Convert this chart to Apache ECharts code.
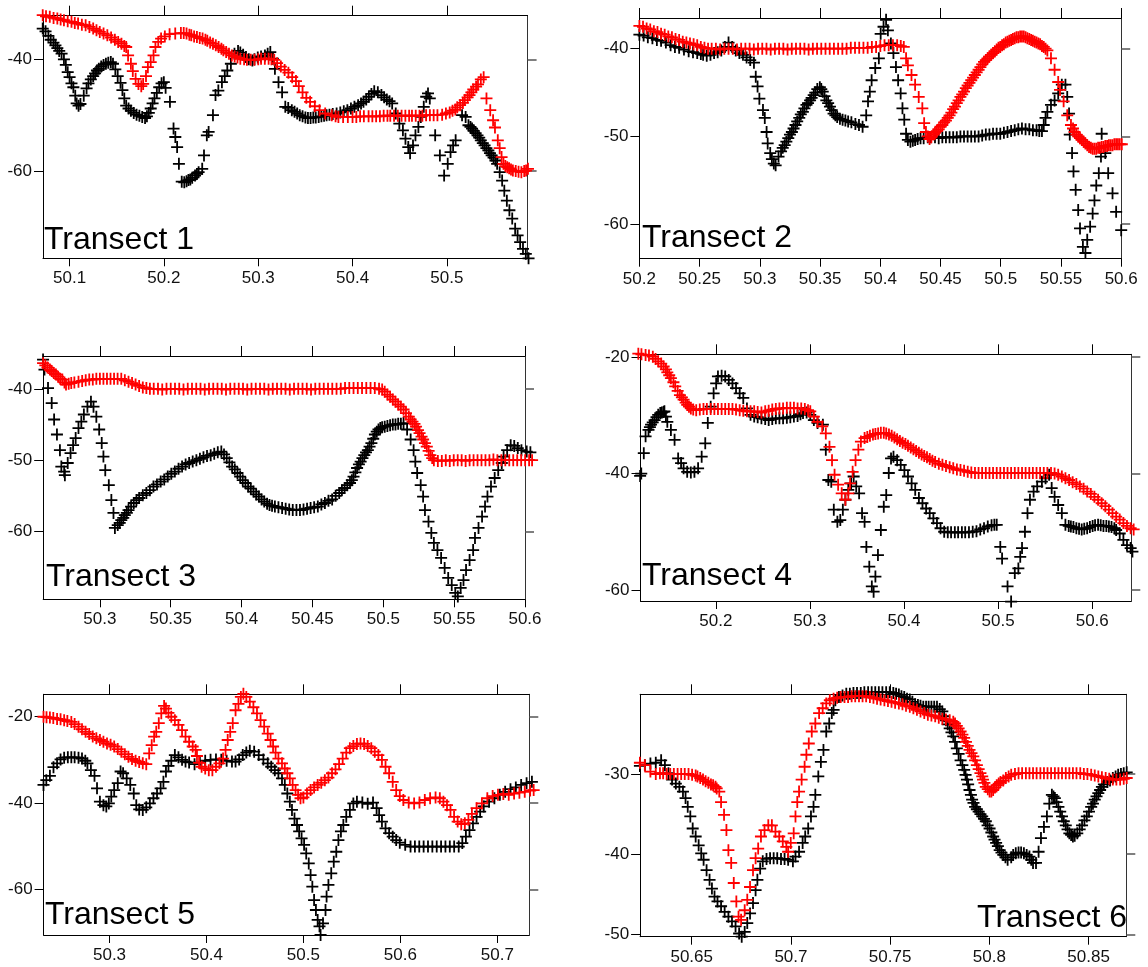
<!DOCTYPE html>
<html>
<head>
<meta charset="utf-8">
<title>Transects</title>
<script src="https://cdn.jsdelivr.net/npm/echarts@6.0.0/dist/echarts.min.js"></script>
<style>
  html, body { margin: 0; padding: 0; background: #ffffff; }
  #chart { width: 1148px; height: 967px; }
</style>
</head>
<body>
<div id="chart"></div>
<script>
// ---- Transect 1 ----
const P1_RED = [[50.0715,-32.1],[50.0750,-32.3],[50.0790,-32.4],[50.0830,-32.6],[50.0870,-32.7],[50.0905,-32.9],[50.0940,-33.0],[50.0980,-33.2],[50.1020,-33.3],[50.1055,-33.5],[50.1090,-33.6],[50.1130,-33.8],[50.1170,-33.9],[50.1210,-34.2],[50.1250,-34.5],[50.1285,-34.8],[50.1320,-35.1],[50.1360,-35.4],[50.1400,-35.7],[50.1440,-36.1],[50.1480,-36.5],[50.1515,-36.9],[50.1550,-37.2],[50.1580,-37.6],[50.1600,-37.8],[50.1620,-39.3],[50.1650,-40.8],[50.1670,-42.1],[50.1700,-43.5],[50.1730,-44.4],[50.1760,-44.8],[50.1780,-44.4],[50.1810,-43.0],[50.1830,-41.4],[50.1860,-40.5],[50.1890,-39.3],[50.1910,-37.8],[50.1940,-36.9],[50.1970,-36.3],[50.2010,-35.9],[50.2060,-35.5],[50.2120,-35.4],[50.2180,-35.3],[50.2210,-35.3],[50.2240,-35.4],[50.2270,-35.6],[50.2290,-35.7],[50.2320,-35.9],[50.2350,-36.0],[50.2380,-36.2],[50.2410,-36.3],[50.2440,-36.5],[50.2460,-36.7],[50.2490,-37.0],[50.2520,-37.2],[50.2550,-37.5],[50.2580,-37.8],[50.2610,-38.1],[50.2630,-38.4],[50.2660,-38.7],[50.2690,-39.0],[50.2720,-39.3],[50.2750,-39.5],[50.2780,-39.7],[50.2810,-39.9],[50.2850,-40.0],[50.2880,-40.1],[50.2920,-40.1],[50.2960,-40.1],[50.3000,-40.0],[50.3030,-39.9],[50.3070,-39.9],[50.3110,-39.9],[50.3140,-40.0],[50.3170,-40.1],[50.3200,-40.7],[50.3240,-41.3],[50.3280,-41.9],[50.3320,-42.4],[50.3360,-43.2],[50.3400,-43.9],[50.3430,-44.8],[50.3470,-45.9],[50.3510,-46.9],[50.3550,-47.6],[50.3600,-48.4],[50.3650,-49.1],[50.3710,-49.7],[50.3780,-50.0],[50.3820,-50.2],[50.3850,-50.3],[50.3900,-50.3],[50.3950,-50.3],[50.4000,-50.3],[50.4040,-50.3],[50.4080,-50.2],[50.4120,-50.2],[50.4170,-50.2],[50.4210,-50.2],[50.4250,-50.2],[50.4290,-50.2],[50.4330,-50.1],[50.4370,-50.1],[50.4400,-50.1],[50.4440,-50.1],[50.4480,-50.1],[50.4520,-50.1],[50.4560,-50.1],[50.4600,-50.1],[50.4630,-50.1],[50.4670,-50.1],[50.4710,-50.1],[50.4740,-50.1],[50.4780,-50.0],[50.4820,-50.0],[50.4860,-50.0],[50.4900,-50.0],[50.4950,-49.9],[50.4990,-49.7],[50.5030,-49.5],[50.5060,-49.2],[50.5090,-49.0],[50.5110,-48.6],[50.5140,-48.2],[50.5170,-47.8],[50.5190,-47.3],[50.5220,-46.8],[50.5240,-46.4],[50.5260,-45.9],[50.5280,-45.4],[50.5310,-44.9],[50.5330,-44.5],[50.5360,-43.6],[50.5390,-43.2],[50.5420,-47.0],[50.5460,-49.1],[50.5490,-50.9],[50.5510,-52.2],[50.5540,-54.5],[50.5560,-55.9],[50.5580,-57.5],[50.5600,-58.7],[50.5620,-59.1],[50.5640,-59.3],[50.5660,-59.5],[50.5680,-59.7],[50.5700,-59.9],[50.5730,-60.0],[50.5760,-60.1],[50.5790,-60.2],[50.5820,-60.0],[50.5840,-59.9],[50.5860,-59.6]];
const P1_BLACK = [[50.0715,-34.5],[50.0745,-35.0],[50.0775,-35.8],[50.0800,-36.5],[50.0829,-37.0],[50.0850,-37.5],[50.0870,-38.0],[50.0890,-38.5],[50.0915,-39.0],[50.0940,-40.0],[50.0960,-41.0],[50.0980,-42.3],[50.1000,-43.2],[50.1020,-44.3],[50.1040,-45.0],[50.1060,-46.5],[50.1075,-47.9],[50.1095,-48.3],[50.1115,-48.0],[50.1150,-46.5],[50.1180,-45.2],[50.1200,-44.3],[50.1225,-43.6],[50.1250,-43.0],[50.1270,-42.5],[50.1290,-42.0],[50.1310,-41.7],[50.1335,-41.3],[50.1360,-41.0],[50.1385,-40.8],[50.1410,-40.6],[50.1437,-40.5],[50.1460,-40.8],[50.1485,-41.8],[50.1510,-43.0],[50.1540,-44.2],[50.1560,-45.5],[50.1580,-47.0],[50.1600,-48.3],[50.1625,-48.8],[50.1650,-49.2],[50.1680,-49.6],[50.1710,-49.9],[50.1740,-50.1],[50.1770,-50.3],[50.1800,-50.5],[50.1820,-50.2],[50.1840,-49.6],[50.1860,-48.8],[50.1880,-47.9],[50.1900,-47.0],[50.1925,-46.0],[50.1950,-45.0],[50.1975,-44.3],[50.1999,-44.1],[50.2018,-45.1],[50.2064,-47.6],[50.2102,-52.4],[50.2121,-53.9],[50.2140,-55.7],[50.2159,-58.7],[50.2189,-61.9],[50.2216,-62.0],[50.2240,-61.8],[50.2260,-61.6],[50.2280,-61.5],[50.2300,-61.2],[50.2330,-60.8],[50.2350,-60.5],[50.2368,-60.2],[50.2406,-59.6],[50.2425,-57.2],[50.2455,-53.6],[50.2474,-53.0],[50.2520,-50.0],[50.2547,-46.4],[50.2577,-45.6],[50.2615,-44.1],[50.2645,-43.0],[50.2672,-42.0],[50.2710,-40.8],[50.2748,-39.0],[50.2786,-38.5],[50.2810,-38.8],[50.2840,-39.2],[50.2870,-39.6],[50.2900,-40.0],[50.2938,-40.2],[50.2960,-40.0],[50.2995,-39.7],[50.3030,-39.5],[50.3071,-39.3],[50.3100,-39.0],[50.3128,-38.7],[50.3155,-39.9],[50.3177,-41.7],[50.3215,-44.1],[50.3253,-45.9],[50.3287,-48.5],[50.3318,-48.7],[50.3356,-49.1],[50.3385,-49.4],[50.3413,-49.7],[50.3440,-50.0],[50.3470,-50.2],[50.3500,-50.4],[50.3527,-50.5],[50.3555,-50.5],[50.3584,-50.4],[50.3610,-50.4],[50.3641,-50.3],[50.3670,-50.2],[50.3698,-50.1],[50.3725,-50.0],[50.3755,-49.9],[50.3790,-49.8],[50.3831,-49.7],[50.3870,-49.5],[50.3907,-49.3],[50.3945,-49.1],[50.3983,-48.8],[50.4020,-48.5],[50.4059,-48.2],[50.4090,-47.9],[50.4116,-47.6],[50.4145,-47.2],[50.4173,-46.7],[50.4200,-46.2],[50.4230,-45.7],[50.4268,-45.9],[50.4306,-46.4],[50.4335,-46.8],[50.4363,-47.2],[50.4392,-47.5],[50.4420,-47.9],[50.4458,-49.7],[50.4496,-51.5],[50.4534,-52.7],[50.4561,-54.2],[50.4591,-55.7],[50.4610,-56.8],[50.4641,-55.4],[50.4667,-53.6],[50.4698,-52.1],[50.4724,-50.3],[50.4755,-48.5],[50.4781,-46.7],[50.4800,-46.1],[50.4819,-47.0],[50.4876,-53.6],[50.4926,-57.2],[50.4971,-60.8],[50.5009,-58.7],[50.5039,-56.6],[50.5066,-55.4],[50.5093,-54.5],[50.5161,-50.0],[50.5199,-50.3],[50.5229,-51.8],[50.5250,-52.1],[50.5267,-52.4],[50.5285,-52.8],[50.5305,-53.2],[50.5325,-53.6],[50.5343,-54.0],[50.5360,-54.5],[50.5381,-55.0],[50.5400,-55.4],[50.5419,-55.9],[50.5440,-56.3],[50.5457,-56.8],[50.5475,-57.2],[50.5495,-57.6],[50.5515,-58.1],[50.5533,-58.7],[50.5560,-60.2],[50.5586,-61.7],[50.5609,-63.5],[50.5636,-65.3],[50.5663,-67.0],[50.5693,-68.5],[50.5724,-70.3],[50.5750,-71.5],[50.5777,-72.7],[50.5807,-73.9],[50.5837,-74.8],[50.5866,-75.6]];

// ---- Transect 2 ----
const P2_RED = [[50.2000,-37.4],[50.2030,-37.5],[50.2060,-37.7],[50.2090,-37.8],[50.2120,-38.0],[50.2150,-38.1],[50.2180,-38.3],[50.2210,-38.4],[50.2240,-38.6],[50.2270,-38.7],[50.2300,-38.9],[50.2330,-39.0],[50.2360,-39.2],[50.2390,-39.3],[50.2420,-39.4],[50.2450,-39.5],[50.2480,-39.6],[50.2510,-39.8],[50.2540,-39.9],[50.2570,-40.0],[50.2600,-40.0],[50.2635,-40.0],[50.2670,-40.1],[50.2705,-40.0],[50.2740,-40.0],[50.2775,-40.0],[50.2810,-40.1],[50.2845,-40.0],[50.2880,-40.0],[50.2915,-40.0],[50.2950,-40.1],[50.2985,-40.0],[50.3020,-40.0],[50.3055,-40.0],[50.3090,-40.1],[50.3125,-40.0],[50.3160,-40.0],[50.3195,-40.0],[50.3230,-40.1],[50.3265,-40.0],[50.3300,-40.0],[50.3335,-40.0],[50.3370,-40.0],[50.3405,-40.1],[50.3440,-40.0],[50.3475,-40.0],[50.3510,-40.0],[50.3545,-40.0],[50.3580,-40.0],[50.3615,-40.0],[50.3650,-40.0],[50.3685,-40.0],[50.3720,-40.0],[50.3755,-39.9],[50.3790,-39.9],[50.3825,-39.9],[50.3860,-39.9],[50.3895,-39.9],[50.3930,-39.8],[50.3965,-39.8],[50.4000,-39.7],[50.4035,-39.6],[50.4070,-39.6],[50.4105,-39.6],[50.4140,-39.6],[50.4170,-39.7],[50.4195,-39.8],[50.4214,-41.1],[50.4229,-41.9],[50.4259,-43.0],[50.4289,-44.1],[50.4319,-45.5],[50.4349,-46.8],[50.4364,-48.5],[50.4379,-49.5],[50.4394,-50.0],[50.4409,-50.3],[50.4424,-50.1],[50.4440,-49.8],[50.4454,-49.6],[50.4470,-49.4],[50.4485,-49.2],[50.4500,-48.9],[50.4515,-48.7],[50.4530,-48.4],[50.4545,-48.2],[50.4560,-47.9],[50.4575,-47.6],[50.4590,-47.3],[50.4605,-46.9],[50.4620,-46.6],[50.4635,-46.2],[50.4650,-45.9],[50.4665,-45.5],[50.4680,-45.2],[50.4695,-44.9],[50.4710,-44.5],[50.4725,-44.2],[50.4740,-43.9],[50.4755,-43.6],[50.4770,-43.3],[50.4785,-43.0],[50.4800,-42.7],[50.4816,-42.4],[50.4831,-42.1],[50.4846,-41.8],[50.4861,-41.5],[50.4876,-41.3],[50.4891,-41.1],[50.4906,-40.9],[50.4921,-40.7],[50.4936,-40.5],[50.4951,-40.3],[50.4966,-40.1],[50.4981,-39.9],[50.4996,-39.8],[50.5011,-39.6],[50.5026,-39.5],[50.5041,-39.3],[50.5056,-39.2],[50.5071,-39.1],[50.5086,-39.0],[50.5101,-38.9],[50.5116,-38.8],[50.5131,-38.7],[50.5146,-38.7],[50.5161,-38.6],[50.5176,-38.6],[50.5191,-38.6],[50.5206,-38.7],[50.5221,-38.8],[50.5237,-38.9],[50.5252,-39.0],[50.5267,-39.1],[50.5282,-39.2],[50.5297,-39.3],[50.5312,-39.4],[50.5327,-39.5],[50.5342,-39.7],[50.5357,-39.8],[50.5372,-40.0],[50.5387,-40.2],[50.5417,-41.1],[50.5447,-42.4],[50.5477,-43.8],[50.5492,-44.7],[50.5522,-46.0],[50.5552,-47.6],[50.5583,-48.7],[50.5600,-49.1],[50.5613,-49.5],[50.5628,-49.8],[50.5643,-50.0],[50.5658,-50.2],[50.5673,-50.4],[50.5688,-50.6],[50.5703,-50.8],[50.5718,-51.0],[50.5733,-51.2],[50.5748,-51.3],[50.5763,-51.4],[50.5778,-51.4],[50.5793,-51.4],[50.5808,-51.3],[50.5823,-51.3],[50.5838,-51.2],[50.5853,-51.2],[50.5868,-51.1],[50.5883,-51.1],[50.5898,-51.0],[50.5913,-51.0],[50.5928,-51.0],[50.5943,-50.9],[50.5958,-50.9],[50.5973,-50.9],[50.5988,-50.9],[50.6005,-50.9]];
const P2_BLACK = [[50.2000,-38.4],[50.2035,-38.5],[50.2070,-38.7],[50.2108,-38.8],[50.2145,-39.0],[50.2180,-39.1],[50.2220,-39.3],[50.2259,-39.6],[50.2295,-39.8],[50.2330,-39.9],[50.2370,-40.1],[50.2409,-40.3],[50.2445,-40.4],[50.2480,-40.5],[50.2510,-40.6],[50.2529,-40.7],[50.2559,-40.8],[50.2590,-40.7],[50.2620,-40.5],[50.2650,-40.4],[50.2680,-40.2],[50.2710,-39.8],[50.2740,-39.3],[50.2770,-39.8],[50.2800,-40.2],[50.2830,-40.5],[50.2860,-40.7],[50.2890,-41.0],[50.2920,-41.3],[50.2951,-41.6],[50.2966,-43.2],[50.2981,-44.3],[50.2996,-45.7],[50.3026,-47.0],[50.3041,-47.9],[50.3056,-49.5],[50.3065,-50.8],[50.3086,-51.9],[50.3100,-52.6],[50.3116,-53.1],[50.3131,-53.3],[50.3155,-52.3],[50.3176,-51.7],[50.3190,-51.3],[50.3206,-51.0],[50.3220,-50.6],[50.3236,-50.2],[50.3250,-49.8],[50.3266,-49.5],[50.3280,-49.1],[50.3296,-48.7],[50.3310,-48.3],[50.3327,-47.9],[50.3340,-47.5],[50.3357,-47.2],[50.3370,-46.8],[50.3387,-46.4],[50.3400,-46.2],[50.3417,-45.9],[50.3430,-45.6],[50.3447,-45.3],[50.3460,-45.0],[50.3477,-44.6],[50.3498,-44.4],[50.3510,-44.6],[50.3522,-44.9],[50.3537,-45.4],[50.3552,-45.9],[50.3567,-46.2],[50.3582,-46.6],[50.3597,-47.0],[50.3612,-47.4],[50.3627,-47.6],[50.3642,-47.8],[50.3665,-48.0],[50.3687,-48.1],[50.3710,-48.2],[50.3733,-48.3],[50.3760,-48.4],[50.3793,-48.6],[50.3823,-48.7],[50.3853,-48.9],[50.3883,-47.6],[50.3898,-46.0],[50.3913,-44.9],[50.3928,-43.6],[50.3958,-42.2],[50.3988,-41.1],[50.4003,-38.3],[50.4027,-37.5],[50.4048,-36.7],[50.4063,-37.9],[50.4088,-39.4],[50.4109,-40.5],[50.4130,-42.1],[50.4148,-43.6],[50.4169,-45.1],[50.4184,-46.8],[50.4199,-48.1],[50.4214,-49.7],[50.4229,-50.4],[50.4250,-50.6],[50.4270,-50.5],[50.4289,-50.4],[50.4310,-50.3],[50.4334,-50.2],[50.4360,-50.2],[50.4394,-50.1],[50.4420,-50.1],[50.4454,-50.1],[50.4485,-50.2],[50.4515,-50.1],[50.4545,-50.1],[50.4575,-50.1],[50.4605,-50.1],[50.4635,-50.1],[50.4665,-50.0],[50.4695,-50.0],[50.4725,-50.0],[50.4755,-50.0],[50.4785,-50.0],[50.4816,-50.0],[50.4846,-49.9],[50.4876,-49.8],[50.4906,-49.8],[50.4936,-49.7],[50.4966,-49.7],[50.4996,-49.7],[50.5026,-49.6],[50.5056,-49.5],[50.5086,-49.4],[50.5116,-49.3],[50.5146,-49.2],[50.5176,-49.1],[50.5206,-49.2],[50.5237,-49.2],[50.5267,-49.3],[50.5297,-49.3],[50.5320,-49.4],[50.5342,-49.4],[50.5357,-48.7],[50.5372,-47.9],[50.5387,-47.2],[50.5417,-46.4],[50.5447,-45.9],[50.5477,-45.1],[50.5507,-44.1],[50.5537,-44.1],[50.5552,-45.5],[50.5567,-47.4],[50.5573,-49.8],[50.5592,-51.9],[50.5604,-54.0],[50.5622,-56.1],[50.5643,-58.4],[50.5658,-60.5],[50.5682,-62.6],[50.5703,-63.3],[50.5718,-61.8],[50.5742,-60.3],[50.5763,-58.8],[50.5778,-57.3],[50.5793,-55.6],[50.5814,-54.2],[50.5832,-52.3],[50.5838,-49.7],[50.5868,-51.9],[50.5892,-54.2],[50.5928,-56.5],[50.5958,-58.6],[50.6000,-60.7]];

// ---- Transect 3 ----
const P3_RED = [[50.2599,-36.4],[50.2615,-36.7],[50.2630,-37.0],[50.2647,-37.3],[50.2660,-37.5],[50.2675,-37.8],[50.2690,-38.0],[50.2705,-38.3],[50.2720,-38.6],[50.2735,-38.7],[50.2750,-39.1],[50.2761,-39.4],[50.2780,-39.3],[50.2798,-39.2],[50.2820,-39.1],[50.2849,-39.0],[50.2875,-38.9],[50.2900,-38.8],[50.2925,-38.7],[50.2950,-38.7],[50.2975,-38.6],[50.3000,-38.6],[50.3025,-38.6],[50.3050,-38.6],[50.3075,-38.6],[50.3100,-38.6],[50.3125,-38.6],[50.3151,-38.6],[50.3176,-38.8],[50.3202,-39.0],[50.3227,-39.2],[50.3252,-39.4],[50.3277,-39.6],[50.3303,-39.8],[50.3328,-39.9],[50.3353,-40.0],[50.3380,-40.0],[50.3410,-40.0],[50.3440,-40.1],[50.3470,-40.0],[50.3500,-40.0],[50.3530,-40.0],[50.3560,-40.0],[50.3590,-40.1],[50.3620,-40.0],[50.3650,-40.0],[50.3680,-40.0],[50.3710,-40.0],[50.3740,-40.1],[50.3770,-40.0],[50.3800,-40.0],[50.3830,-40.0],[50.3860,-40.0],[50.3890,-40.1],[50.3920,-40.0],[50.3950,-40.0],[50.3980,-40.0],[50.4010,-40.0],[50.4040,-40.1],[50.4070,-40.0],[50.4100,-40.0],[50.4130,-40.0],[50.4160,-40.0],[50.4190,-40.1],[50.4220,-40.0],[50.4250,-40.0],[50.4280,-40.0],[50.4310,-40.0],[50.4340,-40.1],[50.4370,-40.0],[50.4400,-40.0],[50.4430,-40.0],[50.4460,-40.0],[50.4490,-40.1],[50.4520,-40.0],[50.4550,-40.0],[50.4580,-40.0],[50.4610,-40.0],[50.4640,-40.0],[50.4670,-40.0],[50.4700,-40.0],[50.4730,-39.9],[50.4760,-39.9],[50.4790,-39.9],[50.4820,-39.9],[50.4850,-39.9],[50.4880,-39.9],[50.4910,-39.9],[50.4940,-39.9],[50.4970,-40.0],[50.4992,-40.1],[50.5010,-40.4],[50.5029,-40.8],[50.5048,-41.1],[50.5067,-41.5],[50.5086,-41.8],[50.5105,-42.2],[50.5124,-42.5],[50.5143,-42.9],[50.5160,-43.4],[50.5180,-43.9],[50.5193,-44.3],[50.5206,-44.6],[50.5220,-44.9],[50.5231,-45.3],[50.5245,-45.8],[50.5256,-46.2],[50.5270,-46.7],[50.5281,-47.1],[50.5294,-47.6],[50.5307,-48.1],[50.5320,-48.7],[50.5332,-49.3],[50.5345,-49.7],[50.5357,-50.0],[50.5385,-50.1],[50.5413,-50.1],[50.5441,-50.0],[50.5469,-50.1],[50.5497,-50.0],[50.5525,-50.0],[50.5553,-50.0],[50.5581,-50.1],[50.5609,-50.0],[50.5637,-50.0],[50.5665,-50.0],[50.5693,-50.0],[50.5721,-50.0],[50.5749,-50.0],[50.5777,-49.9],[50.5805,-50.0],[50.5833,-50.0],[50.5861,-50.0],[50.5889,-50.0],[50.5917,-50.0],[50.5945,-50.0],[50.5973,-50.0],[50.6001,-50.0],[50.6029,-50.0],[50.6050,-50.0]];
const P3_BLACK = [[50.2599,-35.9],[50.2609,-37.3],[50.2634,-39.9],[50.2660,-42.0],[50.2677,-44.3],[50.2697,-46.4],[50.2718,-48.6],[50.2728,-50.9],[50.2748,-51.6],[50.2753,-52.1],[50.2773,-50.4],[50.2793,-49.0],[50.2811,-47.9],[50.2829,-46.9],[50.2849,-45.5],[50.2869,-44.6],[50.2887,-43.6],[50.2912,-42.5],[50.2937,-41.8],[50.2955,-42.5],[50.2975,-43.9],[50.2995,-45.7],[50.3013,-47.6],[50.3025,-49.5],[50.3038,-51.4],[50.3063,-53.5],[50.3081,-55.6],[50.3096,-57.4],[50.3106,-59.5],[50.3126,-59.1],[50.3140,-58.8],[50.3151,-58.4],[50.3165,-58.1],[50.3176,-57.7],[50.3190,-57.4],[50.3202,-57.0],[50.3220,-56.5],[50.3239,-56.0],[50.3258,-55.6],[50.3277,-55.3],[50.3303,-54.9],[50.3328,-54.6],[50.3353,-54.2],[50.3378,-53.7],[50.3403,-53.4],[50.3429,-53.0],[50.3454,-52.7],[50.3479,-52.3],[50.3504,-51.9],[50.3529,-51.6],[50.3555,-51.2],[50.3580,-50.9],[50.3605,-50.6],[50.3630,-50.4],[50.3655,-50.2],[50.3681,-50.0],[50.3706,-49.8],[50.3731,-49.6],[50.3756,-49.4],[50.3782,-49.3],[50.3807,-49.1],[50.3832,-48.9],[50.3857,-48.8],[50.3876,-49.2],[50.3895,-49.7],[50.3914,-50.3],[50.3933,-50.9],[50.3952,-51.3],[50.3971,-51.8],[50.3990,-52.3],[50.4008,-52.8],[50.4027,-53.2],[50.4046,-53.7],[50.4065,-54.0],[50.4084,-54.4],[50.4103,-54.8],[50.4122,-55.1],[50.4141,-55.5],[50.4160,-55.8],[50.4180,-56.1],[50.4197,-56.3],[50.4215,-56.4],[50.4235,-56.5],[50.4260,-56.6],[50.4286,-56.7],[50.4311,-56.8],[50.4336,-56.9],[50.4361,-57.0],[50.4387,-57.0],[50.4412,-57.0],[50.4437,-56.9],[50.4462,-56.8],[50.4487,-56.7],[50.4512,-56.6],[50.4538,-56.5],[50.4563,-56.2],[50.4588,-56.0],[50.4613,-55.7],[50.4639,-55.5],[50.4664,-55.0],[50.4689,-54.6],[50.4708,-54.2],[50.4727,-53.9],[50.4746,-53.5],[50.4765,-53.2],[50.4778,-52.8],[50.4790,-52.3],[50.4803,-51.7],[50.4815,-51.1],[50.4828,-50.6],[50.4840,-50.2],[50.4853,-49.7],[50.4866,-49.3],[50.4878,-48.9],[50.4891,-48.6],[50.4903,-48.1],[50.4916,-47.6],[50.4929,-47.0],[50.4941,-46.4],[50.4954,-46.0],[50.4966,-45.7],[50.4979,-45.5],[50.4992,-45.4],[50.5010,-45.3],[50.5029,-45.2],[50.5048,-45.1],[50.5067,-45.0],[50.5086,-45.0],[50.5105,-44.9],[50.5124,-44.9],[50.5143,-44.8],[50.5168,-45.7],[50.5193,-47.1],[50.5214,-48.6],[50.5226,-50.2],[50.5239,-51.8],[50.5264,-53.5],[50.5281,-55.1],[50.5294,-57.0],[50.5319,-58.6],[50.5339,-60.2],[50.5357,-61.6],[50.5382,-62.6],[50.5408,-63.7],[50.5433,-65.1],[50.5458,-66.5],[50.5483,-67.5],[50.5508,-68.6],[50.5526,-69.1],[50.5546,-67.9],[50.5566,-66.8],[50.5584,-65.4],[50.5609,-64.0],[50.5634,-62.6],[50.5647,-60.9],[50.5672,-59.5],[50.5697,-57.9],[50.5718,-56.5],[50.5735,-55.1],[50.5760,-53.7],[50.5786,-52.5],[50.5811,-51.4],[50.5836,-50.4],[50.5849,-49.5],[50.5874,-48.6],[50.5899,-47.9],[50.5924,-48.0],[50.5949,-48.3],[50.5975,-48.6],[50.6012,-48.8],[50.6038,-48.9]];

// ---- Transect 4 ----
const P4_RED = [[50.1177,-19.4],[50.1210,-19.5],[50.1254,-19.6],[50.1290,-19.7],[50.1331,-19.9],[50.1360,-20.3],[50.1388,-20.7],[50.1420,-21.1],[50.1446,-21.6],[50.1470,-22.1],[50.1485,-22.6],[50.1505,-23.1],[50.1523,-23.6],[50.1550,-24.3],[50.1569,-25.0],[50.1595,-25.8],[50.1619,-26.5],[50.1640,-26.9],[50.1658,-27.3],[50.1680,-27.8],[50.1696,-28.2],[50.1715,-28.5],[50.1735,-28.8],[50.1760,-29.0],[50.1792,-29.1],[50.1830,-29.0],[50.1869,-28.9],[50.1905,-28.9],[50.1946,-28.9],[50.1985,-28.9],[50.2023,-28.9],[50.2062,-28.9],[50.2100,-28.9],[50.2138,-28.9],[50.2177,-28.9],[50.2215,-29.0],[50.2254,-29.1],[50.2292,-29.2],[50.2331,-29.3],[50.2369,-29.3],[50.2408,-29.3],[50.2445,-29.4],[50.2485,-29.5],[50.2525,-29.3],[50.2562,-29.2],[50.2600,-29.0],[50.2638,-28.9],[50.2676,-28.8],[50.2715,-28.8],[50.2755,-28.7],[50.2792,-28.7],[50.2830,-28.7],[50.2869,-28.8],[50.2908,-28.8],[50.2946,-28.9],[50.2980,-29.1],[50.3004,-29.3],[50.3042,-30.2],[50.3081,-31.1],[50.3131,-31.9],[50.3169,-33.1],[50.3208,-35.4],[50.3235,-37.7],[50.3262,-40.2],[50.3300,-41.9],[50.3338,-43.4],[50.3377,-44.5],[50.3408,-43.4],[50.3427,-41.7],[50.3454,-39.7],[50.3485,-37.7],[50.3515,-35.9],[50.3542,-34.5],[50.3581,-33.9],[50.3610,-33.7],[50.3638,-33.5],[50.3670,-33.3],[50.3696,-33.2],[50.3725,-33.1],[50.3754,-33.0],[50.3785,-33.0],[50.3811,-33.1],[50.3840,-33.3],[50.3869,-33.5],[50.3898,-33.8],[50.3927,-34.1],[50.3956,-34.4],[50.3985,-34.7],[50.4015,-34.9],[50.4042,-35.2],[50.4071,-35.5],[50.4100,-35.8],[50.4129,-36.1],[50.4158,-36.4],[50.4187,-36.7],[50.4215,-37.0],[50.4244,-37.2],[50.4273,-37.5],[50.4302,-37.8],[50.4331,-38.0],[50.4370,-38.3],[50.4408,-38.5],[50.4446,-38.7],[50.4485,-38.9],[50.4523,-39.1],[50.4562,-39.3],[50.4600,-39.4],[50.4638,-39.5],[50.4677,-39.7],[50.4715,-39.8],[50.4754,-39.9],[50.4792,-39.9],[50.4830,-39.9],[50.4869,-39.9],[50.4908,-39.9],[50.4946,-39.9],[50.4985,-39.9],[50.5023,-39.9],[50.5062,-39.9],[50.5100,-39.9],[50.5138,-39.9],[50.5177,-39.9],[50.5215,-39.9],[50.5254,-39.9],[50.5292,-39.9],[50.5331,-39.9],[50.5369,-39.9],[50.5408,-39.9],[50.5446,-39.9],[50.5485,-39.9],[50.5523,-39.9],[50.5562,-39.9],[50.5600,-40.0],[50.5638,-40.2],[50.5677,-40.5],[50.5715,-40.8],[50.5754,-41.1],[50.5792,-41.5],[50.5831,-41.8],[50.5869,-42.2],[50.5908,-42.6],[50.5946,-43.1],[50.5985,-43.5],[50.6023,-44.0],[50.6062,-44.5],[50.6100,-45.1],[50.6139,-45.6],[50.6177,-46.2],[50.6215,-46.8],[50.6254,-47.4],[50.6292,-47.9],[50.6331,-48.5],[50.6369,-49.0],[50.6408,-49.4],[50.6440,-49.6]];
const P4_BLACK = [[50.1196,-40.4],[50.1208,-40.0],[50.1235,-36.5],[50.1254,-33.6],[50.1285,-32.5],[50.1300,-32.0],[50.1312,-31.6],[50.1330,-31.2],[50.1350,-30.8],[50.1370,-30.3],[50.1388,-29.9],[50.1410,-29.6],[50.1427,-29.5],[50.1446,-29.4],[50.1454,-29.3],[50.1470,-30.2],[50.1485,-31.1],[50.1523,-32.5],[50.1562,-34.2],[50.1600,-37.4],[50.1631,-38.2],[50.1658,-39.1],[50.1696,-39.7],[50.1735,-39.8],[50.1773,-39.7],[50.1812,-39.1],[50.1850,-37.1],[50.1888,-34.8],[50.1915,-31.3],[50.1946,-28.5],[50.1977,-26.2],[50.2004,-24.5],[50.2023,-23.3],[50.2062,-23.2],[50.2100,-23.3],[50.2138,-23.9],[50.2177,-24.5],[50.2215,-25.3],[50.2254,-26.2],[50.2292,-27.0],[50.2331,-28.8],[50.2369,-29.9],[50.2408,-30.2],[50.2445,-30.3],[50.2485,-30.5],[50.2525,-30.6],[50.2562,-30.8],[50.2600,-30.6],[50.2638,-30.5],[50.2676,-30.5],[50.2715,-30.5],[50.2755,-30.4],[50.2792,-30.3],[50.2830,-30.2],[50.2869,-30.1],[50.2900,-29.8],[50.2927,-29.6],[50.2965,-29.5],[50.3004,-29.9],[50.3042,-30.8],[50.3081,-31.3],[50.3138,-31.6],[50.3169,-35.9],[50.3196,-41.1],[50.3227,-41.4],[50.3254,-46.2],[50.3292,-48.3],[50.3323,-48.0],[50.3350,-46.2],[50.3377,-44.5],[50.3408,-42.8],[50.3438,-41.7],[50.3465,-40.5],[50.3492,-42.2],[50.3523,-43.4],[50.3554,-46.8],[50.3581,-48.3],[50.3600,-52.6],[50.3631,-56.0],[50.3658,-59.4],[50.3677,-60.3],[50.3696,-57.7],[50.3723,-54.0],[50.3754,-49.7],[50.3785,-45.7],[50.3811,-43.7],[50.3838,-39.9],[50.3862,-37.4],[50.3888,-37.1],[50.3927,-37.7],[50.3965,-38.5],[50.4004,-39.4],[50.4042,-40.5],[50.4081,-41.7],[50.4119,-42.8],[50.4158,-44.2],[50.4196,-45.1],[50.4235,-46.0],[50.4273,-46.8],[50.4312,-47.7],[50.4350,-48.5],[50.4388,-49.4],[50.4427,-50.0],[50.4465,-50.1],[50.4500,-50.1],[50.4540,-50.1],[50.4575,-50.1],[50.4615,-50.1],[50.4650,-50.1],[50.4690,-50.1],[50.4730,-50.0],[50.4770,-49.9],[50.4810,-49.6],[50.4850,-49.4],[50.4890,-49.1],[50.4930,-48.9],[50.4960,-48.8],[50.4985,-48.8],[50.5023,-52.6],[50.5042,-54.6],[50.5100,-59.4],[50.5138,-62.0],[50.5177,-57.1],[50.5215,-56.3],[50.5235,-54.3],[50.5254,-52.8],[50.5285,-50.0],[50.5312,-46.8],[50.5338,-44.5],[50.5377,-43.1],[50.5415,-42.2],[50.5465,-41.4],[50.5504,-40.8],[50.5542,-40.2],[50.5569,-42.5],[50.5600,-44.0],[50.5638,-45.4],[50.5677,-46.8],[50.5715,-48.8],[50.5750,-49.0],[50.5773,-49.1],[50.5800,-49.2],[50.5831,-49.4],[50.5860,-49.5],[50.5888,-49.6],[50.5915,-49.5],[50.5946,-49.4],[50.5975,-49.2],[50.6004,-49.0],[50.6030,-48.9],[50.6062,-48.8],[50.6090,-48.9],[50.6119,-49.0],[50.6150,-49.0],[50.6177,-49.1],[50.6205,-49.2],[50.6235,-49.4],[50.6254,-49.7],[50.6292,-50.3],[50.6331,-51.4],[50.6369,-52.3],[50.6408,-52.8],[50.6427,-53.4]];

// ---- Transect 5 ----
const P5_RED = [[50.2319,-20.0],[50.2350,-20.1],[50.2385,-20.2],[50.2420,-20.3],[50.2459,-20.5],[50.2495,-20.6],[50.2532,-20.8],[50.2565,-21.0],[50.2606,-21.2],[50.2640,-21.7],[50.2680,-22.3],[50.2716,-22.9],[50.2753,-23.5],[50.2790,-24.0],[50.2827,-24.6],[50.2864,-25.0],[50.2901,-25.4],[50.2937,-25.8],[50.2974,-26.2],[50.3011,-26.5],[50.3048,-26.9],[50.3085,-27.5],[50.3122,-28.1],[50.3158,-28.7],[50.3195,-29.3],[50.3232,-29.8],[50.3269,-30.2],[50.3306,-30.5],[50.3343,-30.8],[50.3379,-31.0],[50.3409,-28.5],[50.3435,-26.6],[50.3460,-24.6],[50.3482,-23.5],[50.3508,-21.5],[50.3534,-19.2],[50.3563,-17.5],[50.3582,-18.1],[50.3608,-19.1],[50.3637,-20.0],[50.3674,-20.8],[50.3711,-21.9],[50.3748,-23.1],[50.3784,-24.6],[50.3821,-25.8],[50.3858,-26.9],[50.3888,-27.7],[50.3902,-29.1],[50.3924,-30.7],[50.3950,-31.6],[50.3987,-32.0],[50.4024,-32.4],[50.4061,-32.4],[50.4098,-31.6],[50.4134,-30.8],[50.4171,-29.7],[50.4197,-27.7],[50.4219,-25.4],[50.4245,-23.5],[50.4271,-21.5],[50.4300,-18.5],[50.4330,-17.0],[50.4355,-15.4],[50.4381,-14.7],[50.4411,-15.4],[50.4447,-16.5],[50.4484,-17.8],[50.4521,-19.2],[50.4558,-20.8],[50.4595,-22.3],[50.4632,-23.9],[50.4661,-25.4],[50.4687,-26.9],[50.4713,-28.3],[50.4742,-29.7],[50.4779,-30.8],[50.4808,-32.0],[50.4834,-33.1],[50.4860,-34.3],[50.4889,-35.8],[50.4919,-37.0],[50.4945,-38.1],[50.4970,-38.9],[50.5000,-38.7],[50.5037,-37.8],[50.5074,-37.0],[50.5110,-36.4],[50.5147,-35.8],[50.5184,-35.3],[50.5221,-34.7],[50.5258,-34.1],[50.5295,-33.1],[50.5331,-32.2],[50.5368,-31.0],[50.5405,-29.7],[50.5442,-28.3],[50.5479,-27.3],[50.5515,-26.8],[50.5552,-26.3],[50.5589,-26.2],[50.5626,-26.3],[50.5663,-26.8],[50.5700,-27.3],[50.5736,-28.1],[50.5773,-28.9],[50.5810,-30.0],[50.5847,-31.6],[50.5884,-33.1],[50.5921,-35.1],[50.5957,-37.0],[50.5994,-38.4],[50.6031,-39.3],[50.6086,-39.9],[50.6142,-40.1],[50.6197,-39.9],[50.6252,-39.3],[50.6307,-38.9],[50.6363,-38.7],[50.6407,-38.9],[50.6444,-39.7],[50.6481,-40.5],[50.6517,-41.6],[50.6554,-43.2],[50.6591,-44.3],[50.6628,-44.9],[50.6665,-44.7],[50.6702,-43.9],[50.6738,-42.5],[50.6786,-41.2],[50.6841,-40.1],[50.6897,-38.9],[50.6952,-38.4],[50.7007,-38.1],[50.7062,-37.9],[50.7118,-38.1],[50.7173,-37.8],[50.7228,-37.6],[50.7283,-37.4],[50.7339,-37.1],[50.7375,-37.0]];
const P5_BLACK = [[50.2319,-35.8],[50.2348,-34.7],[50.2385,-33.7],[50.2422,-31.7],[50.2459,-30.8],[50.2495,-29.9],[50.2532,-29.5],[50.2570,-29.4],[50.2606,-29.4],[50.2640,-29.4],[50.2680,-29.5],[50.2716,-29.7],[50.2750,-30.2],[50.2772,-30.8],[50.2808,-32.4],[50.2845,-33.7],[50.2871,-36.6],[50.2901,-39.7],[50.2937,-40.5],[50.2967,-40.8],[50.2993,-40.1],[50.3018,-38.5],[50.3048,-37.0],[50.3085,-35.4],[50.3114,-32.7],[50.3140,-33.1],[50.3177,-34.3],[50.3214,-35.8],[50.3250,-37.8],[50.3276,-40.5],[50.3306,-41.5],[50.3343,-41.6],[50.3379,-41.0],[50.3416,-40.1],[50.3453,-38.9],[50.3490,-37.8],[50.3527,-36.6],[50.3556,-35.1],[50.3582,-32.7],[50.3608,-31.4],[50.3637,-30.2],[50.3674,-28.9],[50.3711,-29.4],[50.3748,-30.0],[50.3784,-30.4],[50.3821,-30.6],[50.3877,-31.0],[50.3932,-30.6],[50.3987,-30.2],[50.4042,-30.0],[50.4098,-29.9],[50.4153,-30.0],[50.4208,-30.2],[50.4263,-30.4],[50.4300,-30.4],[50.4337,-29.9],[50.4374,-28.9],[50.4411,-28.3],[50.4447,-27.9],[50.4492,-28.1],[50.4539,-28.9],[50.4587,-29.9],[50.4632,-30.8],[50.4668,-31.6],[50.4705,-32.4],[50.4742,-33.1],[50.4779,-34.3],[50.4808,-35.8],[50.4834,-37.8],[50.4860,-39.7],[50.4882,-41.6],[50.4908,-43.6],[50.4934,-45.1],[50.4956,-46.6],[50.4981,-48.2],[50.5007,-49.7],[50.5029,-51.7],[50.5055,-54.0],[50.5074,-56.7],[50.5092,-59.4],[50.5110,-62.5],[50.5129,-64.8],[50.5147,-67.1],[50.5166,-68.6],[50.5177,-70.6],[50.5202,-67.9],[50.5228,-64.8],[50.5239,-61.7],[50.5258,-59.0],[50.5287,-56.3],[50.5313,-53.6],[50.5339,-51.3],[50.5361,-48.6],[50.5387,-46.6],[50.5412,-45.1],[50.5442,-43.2],[50.5479,-41.6],[50.5515,-40.1],[50.5552,-39.7],[50.5608,-39.9],[50.5663,-40.2],[50.5718,-39.9],[50.5755,-41.2],[50.5781,-42.8],[50.5810,-44.3],[50.5847,-45.9],[50.5884,-47.0],[50.5921,-47.8],[50.5957,-48.6],[50.5994,-49.2],[50.6050,-49.7],[50.6105,-50.1],[50.6150,-50.1],[50.6195,-50.1],[50.6240,-50.1],[50.6285,-50.1],[50.6330,-50.1],[50.6375,-50.1],[50.6420,-50.1],[50.6465,-50.1],[50.6510,-50.1],[50.6555,-50.1],[50.6602,-50.1],[50.6639,-49.3],[50.6676,-47.8],[50.6713,-46.3],[50.6749,-44.7],[50.6786,-43.2],[50.6823,-42.0],[50.6860,-40.8],[50.6915,-39.7],[50.6970,-38.9],[50.7026,-38.1],[50.7081,-37.4],[50.7136,-36.8],[50.7191,-36.4],[50.7246,-35.8],[50.7302,-35.4],[50.7357,-35.1]];

// ---- Transect 6 ----
const P6_RED = [[50.6239,-28.6],[50.6264,-28.9],[50.6292,-29.7],[50.6319,-30.0],[50.6340,-29.9],[50.6356,-29.9],[50.6374,-30.0],[50.6392,-30.0],[50.6410,-30.0],[50.6429,-30.0],[50.6447,-30.0],[50.6465,-30.0],[50.6484,-30.0],[50.6502,-30.1],[50.6520,-30.2],[50.6529,-30.3],[50.6543,-30.5],[50.6557,-30.7],[50.6570,-30.9],[50.6584,-31.1],[50.6597,-31.3],[50.6608,-31.4],[50.6620,-31.6],[50.6626,-31.8],[50.6639,-32.2],[50.6648,-33.5],[50.6663,-35.1],[50.6675,-37.0],[50.6685,-39.5],[50.6699,-41.1],[50.6712,-43.6],[50.6725,-45.9],[50.6736,-47.8],[50.6749,-48.2],[50.6767,-47.0],[50.6780,-45.7],[50.6794,-44.1],[50.6809,-42.0],[50.6822,-40.5],[50.6835,-39.3],[50.6849,-37.8],[50.6867,-37.0],[50.6886,-36.4],[50.6904,-36.4],[50.6922,-37.2],[50.6941,-37.8],[50.6959,-38.4],[50.6977,-39.1],[50.6986,-39.7],[50.6999,-38.6],[50.7014,-37.4],[50.7023,-35.3],[50.7032,-33.5],[50.7041,-32.2],[50.7054,-30.7],[50.7069,-29.1],[50.7078,-27.6],[50.7090,-26.2],[50.7105,-24.7],[50.7123,-23.7],[50.7142,-22.4],[50.7160,-21.8],[50.7178,-21.2],[50.7196,-20.8],[50.7215,-20.6],[50.7233,-20.5],[50.7251,-20.4],[50.7270,-20.4],[50.7288,-20.4],[50.7306,-20.3],[50.7324,-20.3],[50.7343,-20.3],[50.7361,-20.3],[50.7379,-20.3],[50.7398,-20.4],[50.7416,-20.5],[50.7434,-20.6],[50.7452,-20.7],[50.7471,-20.8],[50.7489,-20.9],[50.7507,-21.0],[50.7525,-21.1],[50.7544,-21.2],[50.7562,-21.3],[50.7580,-21.5],[50.7599,-21.6],[50.7617,-21.8],[50.7635,-22.0],[50.7653,-22.2],[50.7672,-22.4],[50.7690,-22.6],[50.7708,-22.7],[50.7727,-22.8],[50.7745,-23.0],[50.7763,-23.1],[50.7781,-23.2],[50.7800,-23.3],[50.7818,-23.5],[50.7827,-23.7],[50.7836,-24.0],[50.7845,-24.3],[50.7855,-24.7],[50.7864,-25.1],[50.7873,-25.5],[50.7882,-26.0],[50.7891,-26.5],[50.7900,-27.0],[50.7910,-27.4],[50.7919,-27.8],[50.7928,-28.3],[50.7937,-28.9],[50.7946,-29.4],[50.7955,-29.9],[50.7964,-30.3],[50.7968,-30.7],[50.7975,-31.1],[50.7982,-31.6],[50.7992,-31.9],[50.8001,-32.2],[50.8010,-32.2],[50.8019,-32.0],[50.8028,-31.7],[50.8037,-31.4],[50.8047,-31.2],[50.8056,-31.0],[50.8070,-30.8],[50.8083,-30.5],[50.8097,-30.3],[50.8110,-30.1],[50.8129,-30.0],[50.8147,-29.9],[50.8165,-29.9],[50.8184,-29.9],[50.8202,-29.9],[50.8220,-29.9],[50.8238,-29.9],[50.8257,-29.9],[50.8275,-29.9],[50.8293,-29.9],[50.8311,-29.9],[50.8330,-29.9],[50.8348,-29.9],[50.8366,-29.9],[50.8385,-29.9],[50.8403,-29.9],[50.8421,-29.9],[50.8439,-29.9],[50.8458,-29.9],[50.8476,-30.0],[50.8494,-30.0],[50.8513,-30.1],[50.8531,-30.2],[50.8549,-30.3],[50.8567,-30.4],[50.8586,-30.5],[50.8604,-30.6],[50.8622,-30.7],[50.8640,-30.7],[50.8659,-30.7],[50.8677,-30.6],[50.8692,-30.5]];
const P6_BLACK = [[50.6239,-29.0],[50.6264,-28.9],[50.6292,-28.7],[50.6319,-28.6],[50.6346,-28.3],[50.6365,-28.9],[50.6383,-29.9],[50.6401,-30.7],[50.6420,-31.2],[50.6438,-31.6],[50.6456,-32.2],[50.6469,-33.0],[50.6480,-34.1],[50.6493,-35.3],[50.6505,-36.8],[50.6520,-37.8],[50.6535,-38.9],[50.6548,-39.9],[50.6560,-40.7],[50.6575,-42.0],[50.6590,-43.2],[50.6602,-44.3],[50.6615,-45.3],[50.6630,-45.9],[50.6648,-46.5],[50.6666,-47.2],[50.6685,-47.8],[50.6703,-48.4],[50.6721,-49.0],[50.6739,-49.9],[50.6752,-50.3],[50.6767,-49.7],[50.6780,-48.6],[50.6794,-47.4],[50.6809,-46.1],[50.6822,-44.5],[50.6831,-43.2],[50.6845,-41.8],[50.6858,-40.9],[50.6877,-40.6],[50.6895,-40.5],[50.6913,-40.5],[50.6931,-40.5],[50.6950,-40.6],[50.6968,-40.6],[50.6986,-40.7],[50.7010,-40.9],[50.7023,-40.3],[50.7041,-39.7],[50.7059,-38.6],[50.7072,-37.8],[50.7087,-36.8],[50.7101,-35.3],[50.7114,-34.1],[50.7123,-32.6],[50.7138,-30.3],[50.7151,-28.5],[50.7164,-27.0],[50.7178,-24.7],[50.7193,-23.7],[50.7206,-22.4],[50.7215,-22.0],[50.7224,-20.8],[50.7242,-20.4],[50.7260,-20.2],[50.7279,-20.0],[50.7297,-20.0],[50.7315,-19.9],[50.7333,-19.9],[50.7352,-19.9],[50.7370,-19.8],[50.7389,-19.8],[50.7407,-19.8],[50.7425,-19.8],[50.7443,-19.8],[50.7461,-19.8],[50.7480,-19.8],[50.7498,-19.8],[50.7516,-19.9],[50.7530,-20.0],[50.7544,-20.1],[50.7557,-20.3],[50.7571,-20.4],[50.7585,-20.6],[50.7599,-20.7],[50.7612,-21.0],[50.7626,-21.3],[50.7640,-21.4],[50.7653,-21.5],[50.7667,-21.6],[50.7681,-21.6],[50.7694,-21.6],[50.7708,-21.6],[50.7722,-21.6],[50.7736,-21.6],[50.7750,-21.9],[50.7763,-22.2],[50.7772,-22.8],[50.7781,-23.3],[50.7790,-23.8],[50.7800,-24.3],[50.7809,-24.8],[50.7818,-25.3],[50.7827,-26.0],[50.7836,-26.8],[50.7845,-27.5],[50.7855,-28.3],[50.7864,-28.9],[50.7873,-29.5],[50.7880,-30.1],[50.7887,-30.7],[50.7893,-31.3],[50.7900,-32.0],[50.7907,-32.6],[50.7913,-33.2],[50.7920,-33.6],[50.7928,-34.1],[50.7937,-34.4],[50.7946,-34.7],[50.7955,-35.0],[50.7964,-35.3],[50.7973,-35.6],[50.7982,-35.9],[50.7991,-36.4],[50.8001,-36.8],[50.8010,-37.3],[50.8019,-37.8],[50.8026,-38.2],[50.8034,-38.6],[50.8043,-39.0],[50.8052,-39.5],[50.8061,-39.8],[50.8070,-40.1],[50.8081,-40.4],[50.8092,-40.7],[50.8110,-40.4],[50.8120,-40.1],[50.8133,-39.9],[50.8147,-39.8],[50.8160,-39.8],[50.8174,-39.9],[50.8188,-40.1],[50.8202,-40.3],[50.8211,-40.7],[50.8220,-41.1],[50.8235,-41.1],[50.8248,-39.7],[50.8260,-38.0],[50.8275,-36.6],[50.8290,-35.3],[50.8302,-33.7],[50.8315,-32.6],[50.8323,-32.8],[50.8330,-33.0],[50.8339,-33.5],[50.8348,-34.1],[50.8357,-34.7],[50.8366,-35.3],[50.8375,-35.9],[50.8385,-36.4],[50.8394,-36.9],[50.8403,-37.4],[50.8412,-37.6],[50.8421,-37.8],[50.8430,-37.7],[50.8443,-37.4],[50.8455,-36.9],[50.8467,-36.4],[50.8479,-35.8],[50.8491,-35.3],[50.8502,-34.7],[50.8513,-34.1],[50.8522,-33.7],[50.8531,-33.2],[50.8540,-32.8],[50.8549,-32.4],[50.8558,-32.0],[50.8567,-31.6],[50.8577,-31.3],[50.8595,-31.0],[50.8608,-30.8],[50.8622,-30.5],[50.8636,-30.3],[50.8649,-30.1],[50.8663,-30.0],[50.8677,-29.9],[50.8692,-29.8]];

// ---- tick labels ----
const X_TICKS_1 = [50.1, 50.2, 50.3, 50.4, 50.5];
const Y_TICKS_1 = [-40, -60];
const X_TICKS_2 = [50.2, 50.25, 50.3, 50.35, 50.4, 50.45, 50.5, 50.55, 50.6];
const Y_TICKS_2 = [-40, -50, -60];
const X_TICKS_3 = [50.3, 50.35, 50.4, 50.45, 50.5, 50.55, 50.6];
const Y_TICKS_3 = [-40, -50, -60];
const X_TICKS_4 = [50.2, 50.3, 50.4, 50.5, 50.6];
const Y_TICKS_4 = [-20, -40, -60];
const X_TICKS_5 = [50.3, 50.4, 50.5, 50.6, 50.7];
const Y_TICKS_5 = [-20, -40, -60];
const X_TICKS_6 = [50.65, 50.7, 50.75, 50.8, 50.85];
const Y_TICKS_6 = [-30, -40, -50];

const TITLES = ['Transect 1', 'Transect 2', 'Transect 3', 'Transect 4', 'Transect 5', 'Transect 6'];

// axis extents per panel
const X_RANGES = [[50.0718, 50.5856], [50.2, 50.6], [50.26, 50.6], [50.12, 50.6415], [50.232, 50.733], [50.624, 50.869]];
const Y_RANGES = [[-75.6, -32.2], [-63.95, -36.5], [-69.5, -35.4], [-61.9, -19.5], [-70.6, -14.8], [-50.3, -20.06]];

// ---- layout ----
const GRIDS = [
  { left: 43, top: 15.7, width: 484.6, height: 242.6 },
  { left: 639.4, top: 18, width: 481.8, height: 240.7 },
  { left: 43.2, top: 356, width: 481.8, height: 243.3 },
  { left: 640.5, top: 354.3, width: 490.8, height: 246.7 },
  { left: 43.6, top: 694.3, width: 485.7, height: 240.7 },
  { left: 640.1, top: 694.3, width: 486.2, height: 242.4 }
];
const TITLE_POS = [
  { x: 44, y: 240, align: 'left' },
  { x: 642, y: 238, align: 'left' },
  { x: 46, y: 577, align: 'left' },
  { x: 642, y: 576, align: 'left' },
  { x: 45, y: 915, align: 'left' },
  { x: 1127, y: 918, align: 'right' }
];

const PANELS = [
  { black: P1_BLACK, red: P1_RED, xt: X_TICKS_1, yt: Y_TICKS_1 },
  { black: P2_BLACK, red: P2_RED, xt: X_TICKS_2, yt: Y_TICKS_2 },
  { black: P3_BLACK, red: P3_RED, xt: X_TICKS_3, yt: Y_TICKS_3 },
  { black: P4_BLACK, red: P4_RED, xt: X_TICKS_4, yt: Y_TICKS_4 },
  { black: P5_BLACK, red: P5_RED, xt: X_TICKS_5, yt: Y_TICKS_5 },
  { black: P6_BLACK, red: P6_RED, xt: X_TICKS_6, yt: Y_TICKS_6 }
];

const FONT = '"Liberation Sans", Arial, Helvetica, sans-serif';
// plus-sign marker, 12 units square with 1.8-unit arms
const PLUS = 'path://M5.1,0H6.9V5.1H12V6.9H6.9V12H5.1V6.9H0V5.1H5.1Z';
const AXIS_COLOR = '#000';

const grid = [], xAxis = [], yAxis = [], series = [], graphic = [];

PANELS.forEach((p, i) => {
  grid.push(Object.assign({ show: false }, GRIDS[i]));
  const [x0, x1] = X_RANGES[i];
  const [y0, y1] = Y_RANGES[i];
  const line = { show: true, onZero: false, lineStyle: { color: AXIS_COLOR, width: 1 } };

  // bottom axis with labels
  xAxis.push({
    type: 'value', gridIndex: i, position: 'bottom', min: x0, max: x1,
    axisLine: line,
    axisTick: { show: true, inside: false, length: 8, customValues: p.xt, lineStyle: { color: AXIS_COLOR, width: 1 } },
    axisLabel: {
      show: true, customValues: p.xt, margin: 12, color: '#111', fontSize: 17, fontFamily: FONT,
      formatter: v => String(+(+v).toFixed(2))
    },
    splitLine: { show: false }
  });
  // top mirror axis: ticks only
  xAxis.push({
    type: 'value', gridIndex: i, position: 'top', min: x0, max: x1,
    axisLine: line,
    axisTick: { show: true, inside: false, length: 10, customValues: p.xt, lineStyle: { color: AXIS_COLOR, width: 1 } },
    axisLabel: { show: false, customValues: p.xt },
    splitLine: { show: false }
  });
  // left axis with labels
  yAxis.push({
    type: 'value', gridIndex: i, position: 'left', min: y0, max: y1,
    axisLine: line,
    axisTick: { show: true, inside: false, length: 9, customValues: p.yt, lineStyle: { color: AXIS_COLOR, width: 1 } },
    axisLabel: {
      show: true, customValues: p.yt, margin: 11, color: '#111', fontSize: 17, fontFamily: FONT,
      formatter: v => String(Math.round(v))
    },
    splitLine: { show: false }
  });
  // right mirror axis: ticks only
  yAxis.push({
    type: 'value', gridIndex: i, position: 'right', min: y0, max: y1,
    axisLine: { show: true, onZero: false, lineStyle: { color: '#333', width: 1 } },
    axisTick: { show: true, inside: false, length: 9, customValues: p.yt, lineStyle: { color: '#555', width: 1.5 } },
    axisLabel: { show: false, customValues: p.yt },
    splitLine: { show: false }
  });

  const common = {
    type: 'scatter', xAxisIndex: i * 2, yAxisIndex: i * 2,
    symbol: PLUS, symbolSize: 12, clip: false, silent: true, animation: false
  };
  series.push(Object.assign({}, common, { name: 'black-' + (i + 1), data: p.black, itemStyle: { color: '#000000', opacity: 1 } }));
  series.push(Object.assign({}, common, { name: 'red-' + (i + 1), data: p.red, itemStyle: { color: '#ff0000', opacity: 1 } }));

  const tp = TITLE_POS[i];
  graphic.push({
    type: 'text', x: tp.x, y: tp.y, z: 100, silent: true,
    style: {
      text: TITLES[i], fill: '#000', font: '32px ' + FONT,
      textAlign: tp.align, textVerticalAlign: 'middle'
    }
  });
});

const chart = echarts.init(document.getElementById('chart'), null, { renderer: 'canvas', width: 1148, height: 967 });
chart.setOption({
  backgroundColor: '#ffffff',
  animation: false,
  grid, xAxis, yAxis, series, graphic
});
</script>
</body>
</html>
